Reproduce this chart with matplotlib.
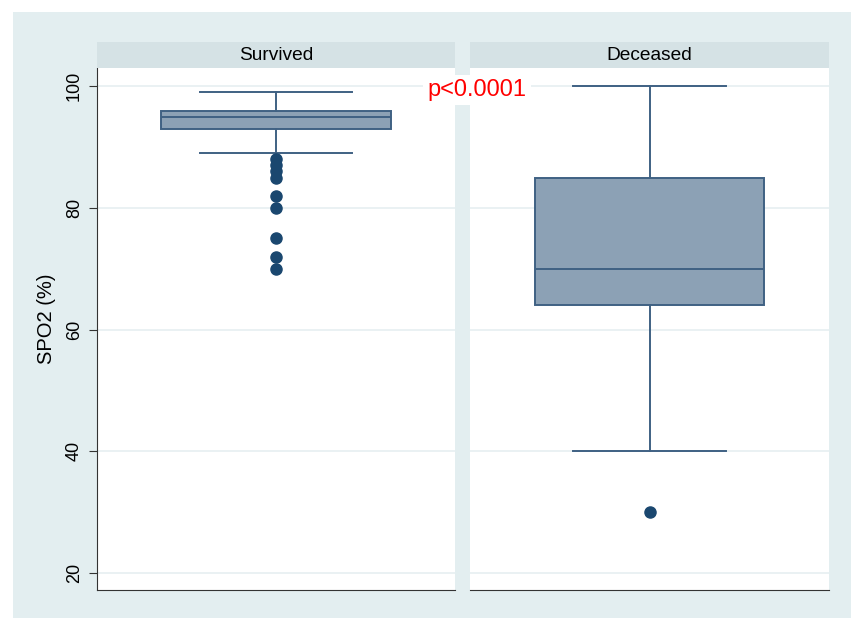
import matplotlib

matplotlib.use("Agg")
import matplotlib.pyplot as plt
from matplotlib.patches import Rectangle

plt.rcParams["font.family"] = ["Liberation Sans", "DejaVu Sans"]

groups = ["Survived", "Deceased"]
# five-number summaries per group (SpO2 %)
whisker_low = [89, 40]
q1 = [93, 64]
median = [95, 70]
q3 = [96, 85]
whisker_high = [99, 100]
outliers = [[88, 87, 86, 85, 82, 80, 75, 72, 70], [30]]

yticks = [20, 40, 60, 80, 100]
p_label = "p<0.0001"

BG = "#e3eef0"
STRIP = "#d5e2e5"
GRID = "#e6eff1"
BOX_FILL = "#8ca1b5"
BOX_EDGE = "#3f6183"
DOT = "#1a476f"

W, H = 851, 618
fig = plt.figure(figsize=(W / 100, H / 100), dpi=100)
fig.patch.set_facecolor("white")
fig.patches.append(Rectangle((13 / W, 0), (W - 13) / W, (H - 12) / H,
                             transform=fig.transFigure, facecolor=BG,
                             edgecolor="none", zorder=-10))


def px_box(x0, x1, ytop, ybot):
    return [x0 / W, (H - ybot) / H, (x1 - x0) / W, (ybot - ytop) / H]


panels = [(97, 455), (470, 829)]
axes = []
for i, (x0, x1) in enumerate(panels):
    ax = fig.add_axes(px_box(x0, x1, 68, 590))
    ax.set_facecolor("white")
    stats = [{
        "med": median[i], "q1": q1[i], "q3": q3[i],
        "whislo": whisker_low[i], "whishi": whisker_high[i],
        "fliers": outliers[i],
    }]
    ax.bxp(stats, positions=[0], widths=0.64, patch_artist=True,
           showcaps=True,
           boxprops=dict(facecolor=BOX_FILL, edgecolor=BOX_EDGE, linewidth=1.4),
           medianprops=dict(color=BOX_EDGE, linewidth=1.4),
           whiskerprops=dict(color=BOX_EDGE, linewidth=1.4),
           capprops=dict(color=BOX_EDGE, linewidth=1.4),
           capwidths=0.425,
           flierprops=dict(marker="o", markerfacecolor=DOT,
                           markeredgecolor=DOT, markersize=8))
    ax.set_xlim(-0.5, 0.5)
    ax.set_ylim(17.2, 103)
    ax.set_yticks(yticks)
    ax.grid(axis="y", color=GRID, linewidth=1.2)
    ax.set_axisbelow(True)
    ax.set_xticks([])
    for s in ["top", "right"]:
        ax.spines[s].set_visible(False)
    ax.spines["bottom"].set_color("#333333")
    ax.spines["left"].set_color("#333333")
    if i == 0:
        ax.tick_params(axis="y", length=6, pad=4, labelsize=13,
                       color="#333333")
        for lab in ax.get_yticklabels():
            lab.set_rotation(90)
            lab.set_va("center")
        ax.set_ylabel("SPO2 (%)", fontsize=14.5)
        ax.yaxis.set_label_coords(-0.114, 0.52)
    else:
        ax.spines["left"].set_visible(False)
        ax.tick_params(axis="y", length=0, labelleft=False)
    axes.append(ax)

    strip = fig.add_axes(px_box(x0, x1, 42, 68))
    strip.set_facecolor(STRIP)
    strip.set_xticks([])
    strip.set_yticks([])
    for s in strip.spines.values():
        s.set_visible(False)
    strip.text(0.5, 0.5, groups[i], ha="center", va="center", fontsize=13.8,
               transform=strip.transAxes)

# significance label straddling the two panels
fig.text(477 / W, (H - 90) / H, p_label, color="red", fontsize=17,
         ha="center", va="center",
         bbox=dict(facecolor="white", edgecolor="none", pad=3))

fig.savefig("out.png", dpi=100)
